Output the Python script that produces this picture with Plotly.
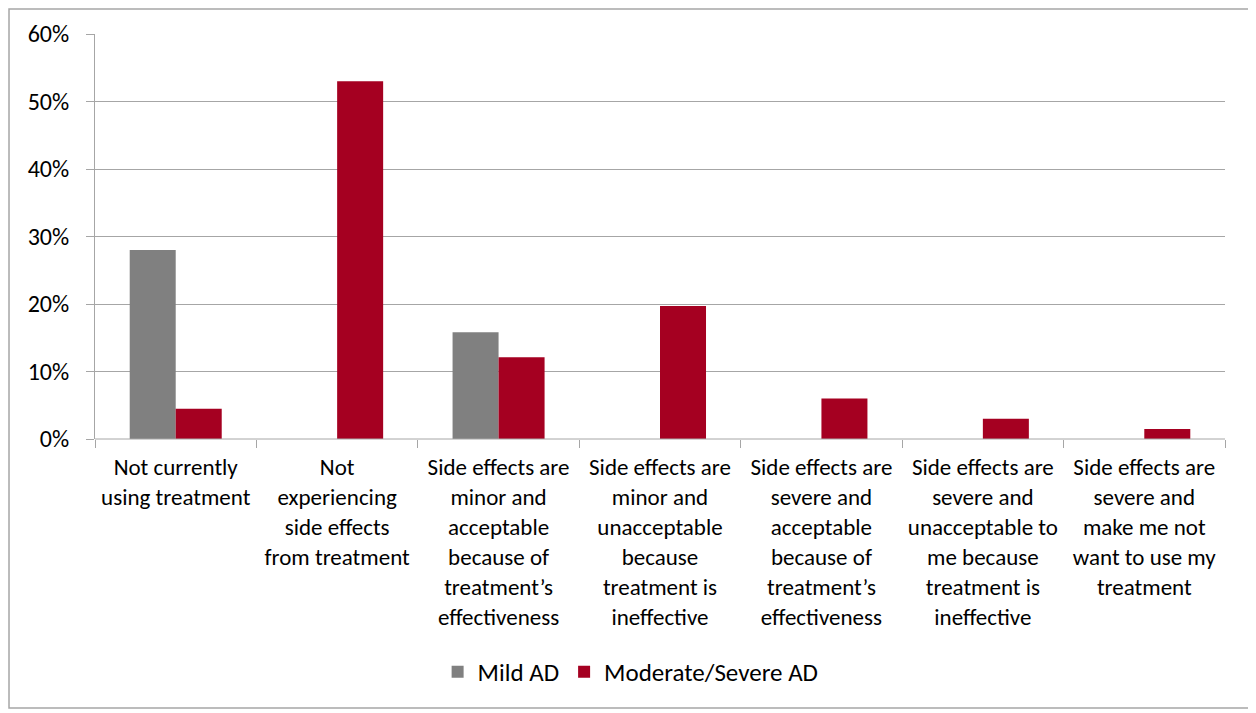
import plotly.graph_objects as go

categories = [
    "Not currently<br>using treatment",
    "Not<br>experiencing<br>side effects<br>from treatment",
    "Side effects are<br>minor and<br>acceptable<br>because of<br>treatment’s<br>effectiveness",
    "Side effects are<br>minor and<br>unacceptable<br>because<br>treatment is<br>ineffective",
    "Side effects are<br>severe and<br>acceptable<br>because of<br>treatment’s<br>effectiveness",
    "Side effects are<br>severe and<br>unacceptable to<br>me because<br>treatment is<br>ineffective",
    "Side effects are<br>severe and<br>make me not<br>want to use my<br>treatment",
]
mild_ad = [0.28, 0, 0.158, 0, 0, 0, 0]
moderate_severe_ad = [0.045, 0.53, 0.121, 0.197, 0.06, 0.03, 0.015]
y_ticks = [0, 0.1, 0.2, 0.3, 0.4, 0.5, 0.6]
y_ticklabels = ["0%", "10%", "20%", "30%", "40%", "50%", "60%"]

FONT = "Carlito, Calibri, Lato, sans-serif"

fig = go.Figure()
fig.add_trace(go.Bar(x=categories, y=mild_ad, name="Mild AD",
                     marker=dict(color="#808080", line=dict(width=0))))
fig.add_trace(go.Bar(x=categories, y=moderate_severe_ad, name="Moderate/Severe AD",
                     marker=dict(color="#A50021", line=dict(width=0))))

fig.update_layout(
    width=1248, height=705,
    margin=dict(l=87, r=31, t=26, b=274),
    paper_bgcolor="white", plot_bgcolor="white",
    barmode="group", bargap=0.43, bargroupgap=0,
    font=dict(family=FONT, size=23, color="#000000"),
    showlegend=True,
    legend=dict(orientation="h", x=0.474, xanchor="center", y=-0.575, yanchor="middle",
                font=dict(size=25), traceorder="normal"),
    xaxis=dict(
        type="category", showgrid=False, showline=False,
        ticks="outside", tickson="boundaries", ticklen=8, tickcolor="#A6A6A6",
        tickfont=dict(size=23), ticklabelstandoff=12, automargin=False,
    ),
    yaxis=dict(
        range=[0, 0.6], tickvals=y_ticks, ticktext=y_ticklabels,
        showgrid=True, gridcolor="#A6A6A6", gridwidth=1,
        showline=True, linecolor="#A6A6A6", linewidth=1,
        ticks="outside", ticklen=8, tickcolor="#A6A6A6",
        tickfont=dict(size=24), ticklabelstandoff=12, zeroline=False, automargin=False,
    ),
    shapes=[
        dict(type="rect", xref="paper", yref="paper",
             x0=-0.0761, x1=1.0239, y0=-0.664, y1=1.0617,
             line=dict(color="#A6A6A6", width=1.5), fillcolor="rgba(0,0,0,0)", layer="below"),
        dict(type="line", xref="paper", yref="paper", x0=0, x1=1, y0=0, y1=0,
             line=dict(color="#A6A6A6", width=1)),
    ],
)

fig.write_html("out.html")
